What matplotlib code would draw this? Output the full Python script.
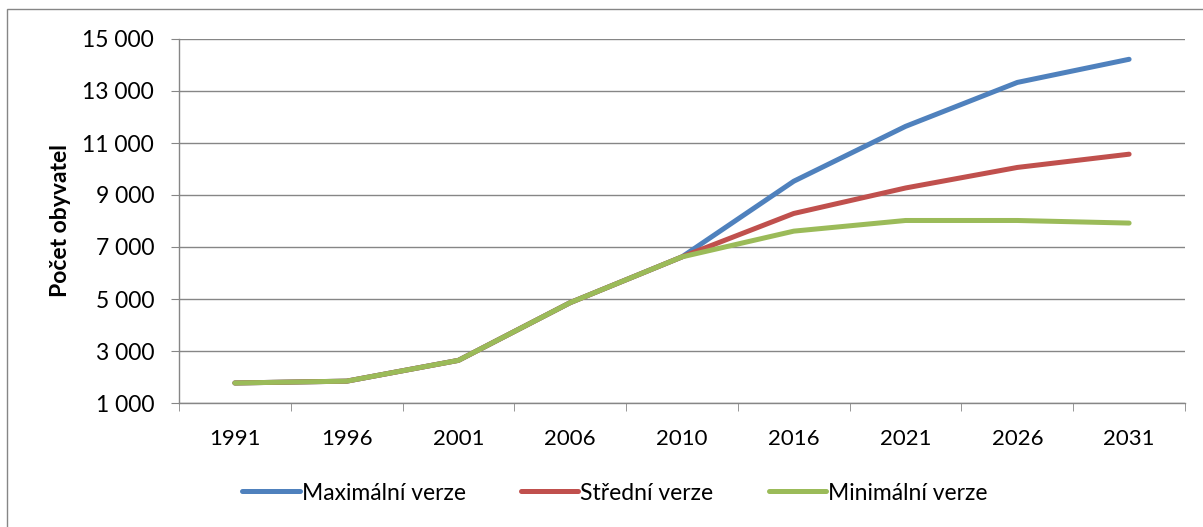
import matplotlib
matplotlib.use("Agg")
import matplotlib.pyplot as plt
import matplotlib.patches as patches
from matplotlib.ticker import FuncFormatter

# data
roky = ["1991", "1996", "2001", "2006", "2010", "2016", "2021", "2026", "2031"]
max_verze = [1770, 1840, 2640, 4860, 6620, 9530, 11640, 13330, 14220]
stredni_verze = [1770, 1840, 2640, 4860, 6620, 8290, 9270, 10060, 10570]
min_verze = [1770, 1840, 2640, 4860, 6620, 7610, 8020, 8020, 7920]

nazvy = ["Maximální verze", "Střední verze", "Minimální verze"]
barvy = ["#4F81BD", "#C0504D", "#9BBB59"]

plt.rcParams['font.family'] = ['Lato', 'DejaVu Sans']

W, H = 1203, 527
fig = plt.figure(figsize=(W / 100, H / 100), dpi=100)
ax = fig.add_axes([179 / W, 1 - 403 / H, (1185 - 179) / W, (403 - 39) / H])

# ramecek grafu
fig.patches.append(patches.Rectangle((7 / W, -0.1), 1.2, 1.1 - 9 / H,
                                     transform=fig.transFigure, fill=False,
                                     edgecolor="#868686", lw=1.0))

x = list(range(len(roky)))
for serie, nazev, barva in zip([max_verze, stredni_verze, min_verze], nazvy, barvy):
    ax.plot(x, serie, color=barva, lw=3.6, label=nazev,
            solid_capstyle='round', solid_joinstyle='round', zorder=3)

ax.set_xlim(-0.5, len(roky) - 0.5)
ax.set_ylim(1000, 15000)
ax.set_yticks(range(1000, 15001, 2000))
ax.yaxis.set_major_formatter(FuncFormatter(lambda v, p: f"{int(v):,}".replace(",", " ")))
ax.grid(axis='y', color="#868686", lw=1.0)
ax.set_axisbelow(True)

ax.set_xticks(x)
ax.set_xticklabels(roky)
ax.set_xticks([i + 0.5 for i in range(-1, len(roky))], minor=True)
ax.tick_params(axis='x', which='major', length=0, pad=19, labelsize=16)
ax.tick_params(axis='x', which='minor', length=6, color="#868686", direction='out')
ax.tick_params(axis='y', length=6, color="#868686", pad=12, labelsize=16.5)

for s in ["top", "right"]:
    ax.spines[s].set_visible(False)
for s in ["left", "bottom"]:
    ax.spines[s].set_color("#868686")
    ax.spines[s].set_linewidth(1.0)

ax.set_ylabel("Počet obyvatel", fontsize=16.5, fontweight='bold', labelpad=8)

fig.legend(loc='center', bbox_to_anchor=(615 / W, 1 - 493 / H), ncol=3,
           frameon=False, fontsize=16.5, handlelength=2.5, handletextpad=0.1,
           columnspacing=2.4)

fig.savefig("out.png", dpi=100)
